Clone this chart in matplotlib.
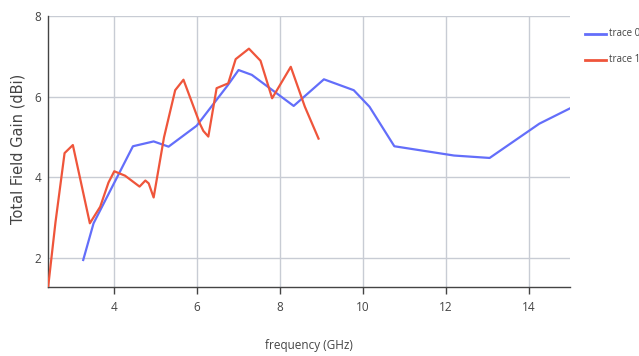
import matplotlib
matplotlib.use("Agg")
import matplotlib.pyplot as plt
from matplotlib.lines import Line2D

plt.rcParams['font.family'] = ['Open Sans', 'DejaVu Sans']

trace0_x = [3.25, 3.50, 4.45, 4.95, 5.31, 5.99, 6.73, 7.00, 7.32, 8.33, 9.06, 9.78, 10.16, 10.76, 12.2, 13.06, 14.26, 15.0]
trace0_y = [1.95, 2.86, 4.77, 4.89, 4.76, 5.28, 6.27, 6.66, 6.54, 5.77, 6.43, 6.16, 5.75, 4.77, 4.54, 4.48, 5.33, 5.71]

trace1_x = [2.40, 2.58, 2.80, 3.00, 3.41, 3.66, 3.86, 4.00, 4.26, 4.61, 4.75, 4.83, 4.95, 5.20, 5.47, 5.67, 6.07, 6.15, 6.27, 6.47, 6.75, 6.93, 7.25, 7.53, 7.81, 8.26, 8.60, 8.93]
trace1_y = [1.25, 2.88, 4.60, 4.80, 2.86, 3.27, 3.87, 4.15, 4.04, 3.77, 3.92, 3.85, 3.50, 4.99, 6.16, 6.42, 5.32, 5.15, 5.01, 6.21, 6.33, 6.93, 7.19, 6.89, 5.96, 6.74, 5.75, 4.96]

names = ["trace 0", "trace 1"]
colors = ["#636efa", "#ef553b"]

W, H = 639, 356
fig = plt.figure(figsize=(W/100, H/100), dpi=100)
left, right, top, bottom = 48, 570, 16, 287
ax = fig.add_axes([left/W, 1-bottom/H, (right-left)/W, (bottom-top)/H])

ax.plot(trace0_x, trace0_y, color=colors[0], lw=1.6, solid_joinstyle='round', zorder=3)
ax.plot(trace1_x, trace1_y, color=colors[1], lw=1.6, solid_joinstyle='round', zorder=3)

ax.set_xlim(2.4, 15.0)
ax.set_ylim(1.28, 8.0)
ax.set_xticks([4, 6, 8, 10, 12, 14])
ax.set_yticks([2, 4, 6, 8])
ax.grid(True, color="#c8ccd4", lw=1.0, zorder=0)
for s in ['top', 'right']:
    ax.spines[s].set_visible(False)
for s in ['left', 'bottom']:
    ax.spines[s].set_color("#444444")
    ax.spines[s].set_linewidth(1.0)
ax.tick_params(axis='x', colors="#444444", labelcolor="#444444", length=5, width=1, labelsize=8.5, pad=5)
ax.tick_params(axis='y', length=0, labelcolor="#444444", labelsize=8.5, pad=5)

fig.text(309/W, 1-346/H, "frequency (GHz)", ha='center', va='center', fontsize=8.5, color="#444444")
fig.text(18/W, 1-149/H, "Total Field Gain (dBi)", ha='center', va='center', rotation=90,
         fontsize=10.5, color="#444444", family=['DejaVu Sans'])

# legend (outside plot, right side)
leg_rows = [34, 60]
for name, c, yy in zip(names, colors, leg_rows):
    fig.add_artist(Line2D([585/W, 606/W], [1-yy/H, 1-yy/H], color=c, lw=2, transform=fig.transFigure))
    fig.text(609/W, 1-yy/H, name, ha='left', va='center', fontsize=7, color="#444444")

fig.savefig("out.png", dpi=100)
